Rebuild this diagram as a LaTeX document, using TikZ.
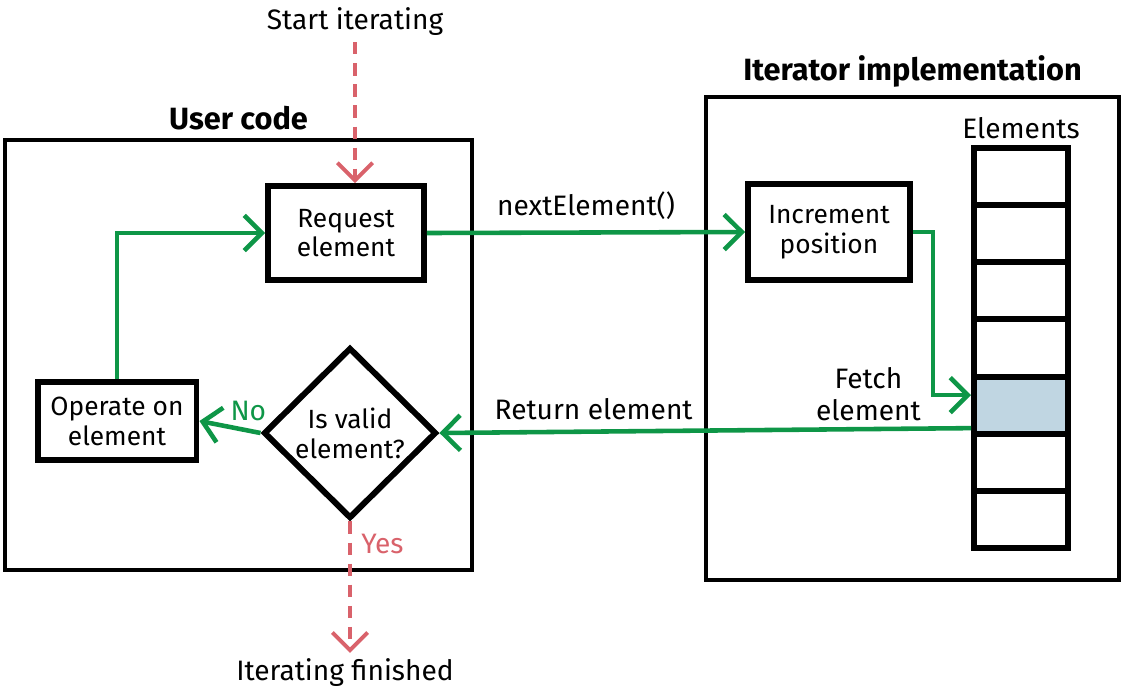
\documentclass[tikz,border=0pt]{standalone}
\usepackage{fontspec}
\setmainfont{Fira Sans}
\usetikzlibrary{shapes.geometric,arrows.meta,positioning}
\definecolor{flowgreen}{RGB}{14,150,71}
\definecolor{flowred}{RGB}{217,98,107}
\definecolor{cellblue}{RGB}{192,214,226}

\begin{document}
\begin{tikzpicture}[x=0.02cm,y=-0.02cm,
  box/.style={draw,line width=3.4pt,fill=white,align=center,font=\fontsize{15}{17}\selectfont},
  area/.style={draw,line width=2.2pt,inner sep=0pt},
  cell/.style={draw,line width=3.4pt,minimum width=1.88cm,minimum height=1.143cm},
  title/.style={font=\fontsize{17.5}{20}\selectfont\bfseries},
  lbl/.style={font=\fontsize{16}{18}\selectfont,align=center,text=black},
  flow/.style={draw,flowgreen,line width=2.6pt,-{Straight Barb[length=10pt,width=20pt]}},
  endflow/.style={draw,flowred,line width=2.2pt,dash pattern=on 7pt off 5pt,-{Straight Barb[length=10pt,width=20pt]}}]
\useasboundingbox (0,0) rectangle (1128,698);

% the two areas
\node[area,minimum width=9.34cm,minimum height=8.6cm] (user) at (238.5,355) {};
\node[title,above=1pt of user.north] (usertitle) {User code};
\node[area,minimum width=8.26cm,minimum height=9.66cm] (impl) at (912.5,338.5) {};
\node[title,above=1pt of impl.north] (impltitle) {Iterator implementation};

% user code
\node[box,minimum width=3.12cm,minimum height=1.88cm] (request) at (346,233) {Request\\element};
\node[box,minimum width=3.18cm,minimum height=1.56cm] (operate) at (117,421) {Operate on\\element};
\node[box,diamond,minimum width=3.46cm,minimum height=3.42cm,inner sep=0pt] (valid) at (350,433) {Is valid\\element?};
\node[lbl] (start) at (355,22) {Start iterating};
\node[lbl] (finish) at (345,673) {Iterating finished};

% iterator implementation
\node[box,minimum width=3.24cm,minimum height=1.92cm] (increment) at (829,232) {Increment\\position};
\foreach \i/\shade in {1/white,2/white,3/white,4/white,5/cellblue,6/white,7/white}
  \node[cell,fill=\shade] (c\i) at (1021,{148+57.14*(\i-0.5)}) {};
\node[lbl,above=0pt of c1] (elemtitle) {Elements};

% connectors
\path[endflow] (start) -- (start |- request.north);
\path[flow] (operate.north) |- (request.west);
\path[flow] (request.east) -- node[lbl,above=3pt] {nextElement()} (increment.west);
\path[flow] (increment.east) -- ++(20,0) |- ([yshift=0.2cm]c5.west);
\node[lbl,anchor=east] (fetch) at (927,394) {Fetch\\element};
\path[flow] ([yshift=-0.46cm]c5.west) -- node[lbl,pos=0.71,above=2pt] {Return element} (valid.east);
\path[flow] (valid.west) -- node[lbl,pos=0.2,above=1pt,text=flowgreen] {No} (operate.east);
\path[endflow] (valid.south) -- node[lbl,pos=0.17,right=2pt,text=flowred] {Yes} (valid.south |- finish.north);
\end{tikzpicture}
\end{document}
